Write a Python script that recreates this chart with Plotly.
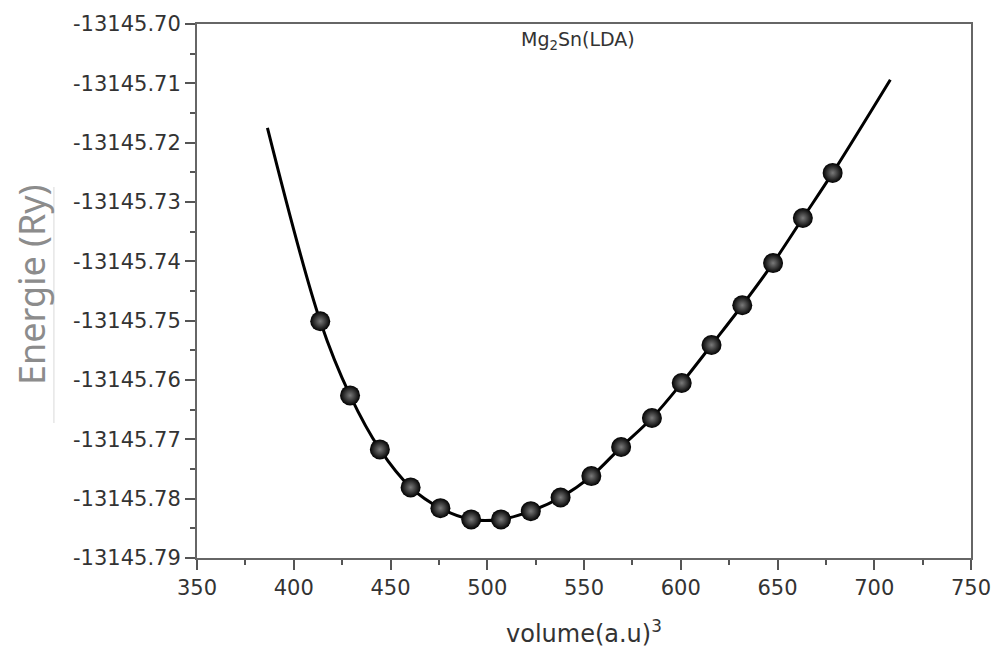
import plotly.graph_objects as go

# Data points (volume in a.u.^3, energy in Ry)
volume = [413.7, 429.1, 444.5, 460.4, 475.8, 491.7, 507.1, 522.5, 537.9,
          553.8, 569.2, 585.1, 600.5, 615.9, 631.8, 647.7, 663.1, 678.5]
energy = [-13145.7501, -13145.7626, -13145.7717, -13145.7781, -13145.7816,
          -13145.7835, -13145.7835, -13145.7821, -13145.7798, -13145.7762,
          -13145.7713, -13145.7664, -13145.7605, -13145.7541, -13145.7474,
          -13145.7403, -13145.7327, -13145.7251]

# Fitted curve ends
fit_volume = [386.4] + volume + [708.3]
fit_energy = [-13145.7175] + energy + [-13145.7094]

x_ticks = [350, 400, 450, 500, 550, 600, 650, 700, 750]
y_ticks = [-13145.79, -13145.78, -13145.77, -13145.76, -13145.75,
           -13145.74, -13145.73, -13145.72, -13145.71, -13145.70]
y_tick_text = ["-13145.79", "-13145.78", "-13145.77", "-13145.76", "-13145.75",
               "-13145.74", "-13145.73", "-13145.72", "-13145.71", "-13145.70"]

W, H = 1003, 649
L, R, T, B = 197, 27, 24, 91

fig = go.Figure()
fig.add_trace(go.Scatter(
    x=fit_volume, y=fit_energy, mode="lines",
    line=dict(color="black", width=3, shape="spline", smoothing=1.0),
    hoverinfo="skip", showlegend=False))
fig.add_trace(go.Scatter(
    x=volume, y=energy, mode="markers",
    marker=dict(size=20, color="#000000", symbol="circle",
                gradient=dict(type="radial", color="#7a7a7a"),
                line=dict(width=0)),
    showlegend=False))

tickfont = dict(family="DejaVu Sans, Arial, sans-serif", size=21, color="#333333")
axis_common = dict(
    showline=True, linecolor="#666666", linewidth=2, mirror=True,
    ticks="outside", ticklen=10, tickwidth=2, tickcolor="#555555",
    showgrid=False, zeroline=False, tickfont=tickfont,
)

fig.update_xaxes(range=[350, 750], tickvals=x_ticks,
                 minor=dict(ticks="outside", ticklen=5, tickwidth=2,
                            tickcolor="#555555", dtick=25, showgrid=False),
                 **axis_common)
fig.update_yaxes(range=[-13145.79, -13145.70], tickvals=y_ticks, ticktext=y_tick_text,
                 minor=dict(ticks="outside", ticklen=5, tickwidth=2,
                            tickcolor="#555555", dtick=0.005, showgrid=False),
                 **axis_common)

pw = W - L - R
ph = H - T - B

def px(xp):
    return (xp - L) / pw

def py(yp):
    return (H - B - yp) / ph

fig.add_annotation(text="Mg<sub>2</sub>Sn(LDA)", x=px(580), y=py(41),
                   xref="paper", yref="paper", showarrow=False,
                   xanchor="center", yanchor="middle",
                   font=dict(family="DejaVu Sans, Arial, sans-serif", size=19, color="#333333"))
fig.add_annotation(text="volume(a.u)<sup>3</sup>", x=px(587), y=py(632),
                   xref="paper", yref="paper", showarrow=False,
                   xanchor="center", yanchor="middle",
                   font=dict(family="DejaVu Sans, Arial, sans-serif", size=24, color="#333333"))
fig.add_annotation(text="Energie (Ry)", x=px(30), y=py(285),
                   xref="paper", yref="paper", showarrow=False, textangle=-90,
                   xanchor="center", yanchor="middle",
                   font=dict(family="Noto Sans, Open Sans, sans-serif", size=36, color="#8c8c8c"))
fig.add_shape(type="line", xref="paper", yref="paper",
              x0=px(53), x1=px(53), y0=py(187), y1=py(423),
              line=dict(color="#d9d9d9", width=1))

fig.update_layout(
    width=W, height=H,
    margin=dict(l=L, r=R, t=T, b=B, pad=0),
    plot_bgcolor="white", paper_bgcolor="white",
    showlegend=False,
)

fig.write_html("out.html")
